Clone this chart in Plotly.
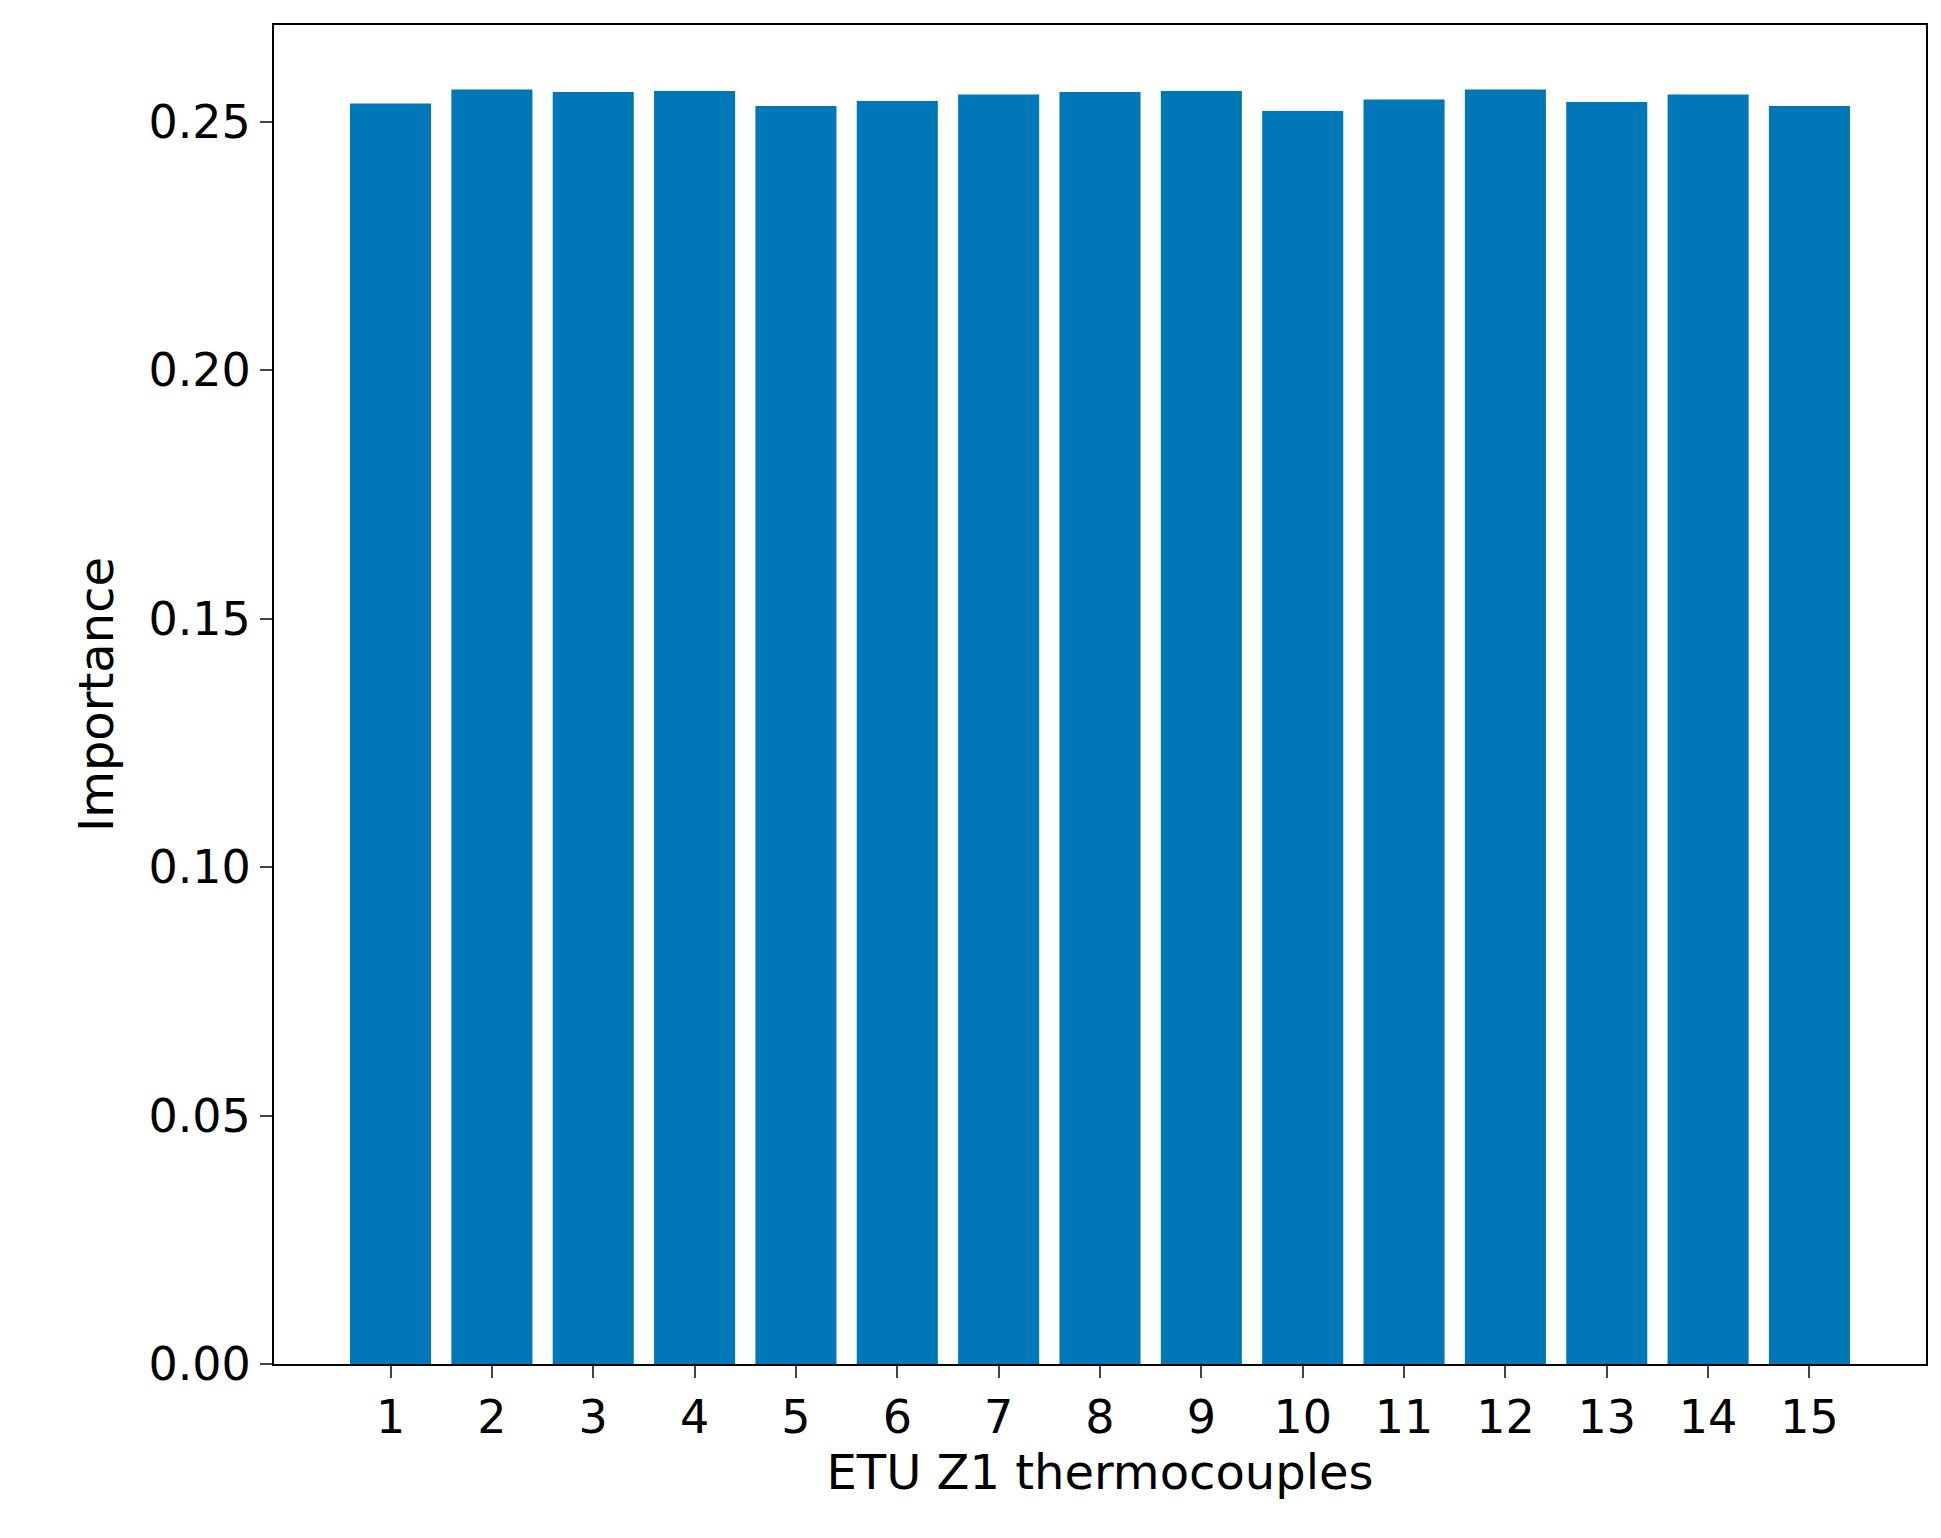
import plotly.graph_objects as go

categories = list(range(1, 16))
importance = [0.2537, 0.2565, 0.2560, 0.2562, 0.2532, 0.2542, 0.2555, 0.2560,
              0.2562, 0.2522, 0.2545, 0.2565, 0.2540, 0.2555, 0.2532]
y_ticks = [0.00, 0.05, 0.10, 0.15, 0.20, 0.25]

fig = go.Figure(go.Bar(x=categories, y=importance, width=0.8,
                       marker=dict(color="#0077B6", line=dict(width=0))))
font = "DejaVu Sans"
fig.update_layout(
    width=1941, height=1538, paper_bgcolor="white", plot_bgcolor="white",
    margin=dict(l=266, r=23, t=17, b=182), showlegend=False,
    font=dict(family=font, size=46, color="black"),
)
fig.update_xaxes(range=[-0.15, 16.15], tickmode="array", tickvals=categories,
                 ticktext=[str(c) for c in categories], ticks="outside", ticklen=12,
                 tickwidth=2, showline=True, linecolor="black", linewidth=2, mirror=True,
                 showgrid=False, zeroline=False,
                 title=dict(text="ETU Z1 thermocouples", font=dict(size=48), standoff=10))
fig.update_yaxes(range=[0, 0.2695], tickmode="array", tickvals=y_ticks,
                 ticktext=[f"{v:.2f}" for v in y_ticks], ticks="outside", ticklen=12,
                 tickwidth=2, showline=True, linecolor="black", linewidth=2, mirror=True,
                 showgrid=False, zeroline=False,
                 title=dict(text="Importance", font=dict(size=48), standoff=20))
fig.write_html("out.html")
